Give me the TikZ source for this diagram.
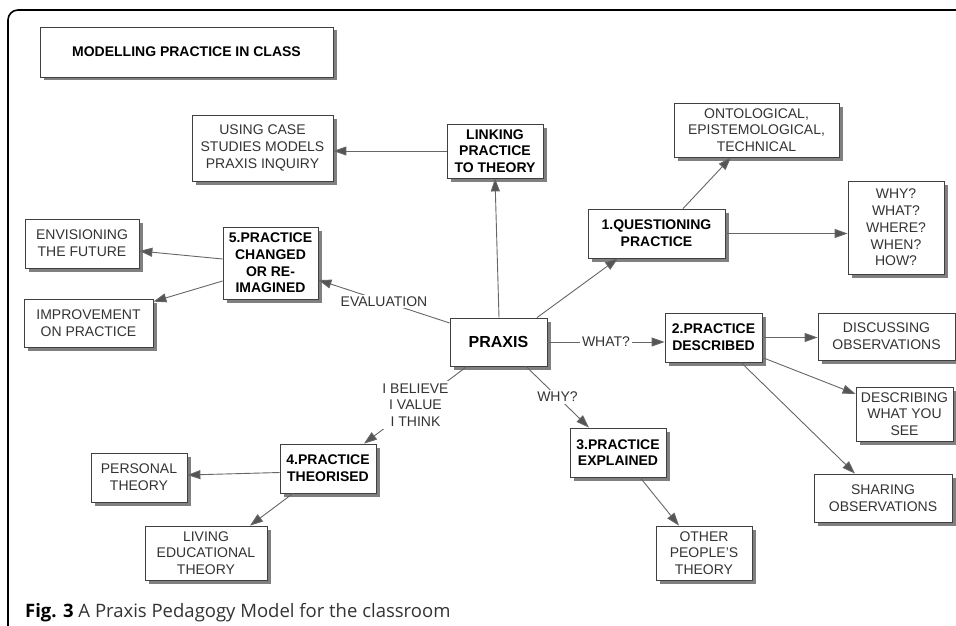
\documentclass[tikz,border=0pt]{standalone}
\usepackage{fontspec}
\setmainfont{Liberation Sans}
\newfontfamily\capfont{Open Sans}
\usetikzlibrary{arrows.meta,shadows,calc}
\definecolor{txt}{HTML}{333333}
\definecolor{edge}{HTML}{666666}
\definecolor{tip}{HTML}{555555}
\tikzset{
  box/.style={draw=black!75, line width=0.8pt, fill=white, align=center, inner sep=1pt,
    text=txt, font=\fontsize{14}{16.7}\selectfont,
    drop shadow={shadow xshift=3.5pt, shadow yshift=-3.5pt, opacity=1, fill=black!50}},
  bbox/.style={box, text=black, font=\fontsize{14}{16.7}\selectfont\bfseries},
  conn/.style={draw=edge, line width=0.9pt, -{Triangle[length=13pt,width=9pt,fill=tip]}},
  lbl/.style={fill=white, text=txt, inner sep=2pt, align=center, font=\fontsize{14}{16.7}\selectfont}
}
\begin{document}
\begin{tikzpicture}[x=1pt,y=-1pt]
\useasboundingbox (0,0) rectangle (956,626);
\draw[line width=1.6pt, rounded corners=10pt] (8,630) -- (8,10) -- (960,10);

\node[bbox, minimum width=293pt, minimum height=50pt] (title) at (186.5,52) {MODELLING PRACTICE IN CLASS};
\node[box, minimum width=141pt, minimum height=66pt] (using) at (262.5,148) {USING CASE\\STUDIES MODELS\\PRAXIS INQUIRY};
\node[bbox, minimum width=96pt, minimum height=54pt] (linking) at (495,151) {LINKING\\PRACTICE\\TO THEORY};
\node[box, minimum width=114pt, minimum height=49pt] (envision) at (82,243.5) {ENVISIONING\\THE FUTURE};
\node[bbox, minimum width=95pt, minimum height=72pt] (p5) at (270.5,263) {5.PRACTICE\\CHANGED\\OR RE-\\IMAGINED};
\node[box, minimum width=129pt, minimum height=48pt] (improve) at (88.5,323) {IMPROVEMENT\\ON PRACTICE};
\node[bbox, minimum width=97pt, minimum height=48pt, font=\fontsize{16}{18}\selectfont\bfseries] (praxis) at (498.5,342) {PRAXIS};
\node[box, minimum width=165pt, minimum height=54pt] (onto) at (756.5,130) {ONTOLOGICAL,\\EPISTEMOLOGICAL,\\TECHNICAL};
\node[box, minimum width=96pt, minimum height=93pt] (why) at (896,227.5) {WHY?\\WHAT?\\WHERE?\\WHEN?\\HOW?};
\node[bbox, minimum width=137pt, minimum height=49pt] (q1) at (656.5,233.5) {1.QUESTIONING\\PRACTICE};
\node[bbox, minimum width=97pt, minimum height=49pt] (p2) at (713.5,337.5) {2.PRACTICE\\DESCRIBED};
\node[box, minimum width=137pt, minimum height=47pt] (disc) at (886.5,336.5) {DISCUSSING\\OBSERVATIONS};
\node[box, minimum width=97pt, minimum height=54pt] (desc) at (904.5,414) {DESCRIBING\\WHAT YOU\\SEE};
\node[box, minimum width=138pt, minimum height=48pt] (share) at (883,498) {SHARING\\OBSERVATIONS};
\node[bbox, minimum width=96pt, minimum height=49pt] (p3) at (618,452.5) {3.PRACTICE\\EXPLAINED};
\node[box, minimum width=96pt, minimum height=54pt] (other) at (704,553) {OTHER\\PEOPLE'S\\THEORY};
\node[bbox, minimum width=96pt, minimum height=49pt] (p4) at (328,468.5) {4.PRACTICE\\THEORISED};
\node[box, minimum width=96pt, minimum height=49pt] (personal) at (139,477.5) {PERSONAL\\THEORY};
\node[box, minimum width=122pt, minimum height=54pt] (living) at (206,553) {LIVING\\EDUCATIONAL\\THEORY};

\draw[conn] ([xshift=0.5pt]praxis.north) -- (linking.south);
\draw[conn] (linking.west) -- (using.east |- linking.west);
\draw[conn] ([xshift=38.5pt]praxis.north) -- ([xshift=-38.5pt]q1.south);
\draw[conn] ([xshift=26.5pt]q1.north) -- ([xshift=-25.5pt]onto.south);
\draw[conn] (q1.east) -- (why.west |- q1.east);
\draw[conn] ([yshift=19pt]praxis.west) -- node[lbl]{EVALUATION} ([yshift=-17pt]p5.east);
\draw[conn] ([yshift=4pt]p5.west) -- ([yshift=-7.5pt]envision.east);
\draw[conn] ([yshift=-18pt]p5.west) -- ([yshift=-3pt]improve.north east);
\draw[conn] (praxis.east) -- node[lbl]{WHAT?} (p2.west |- praxis.east);
\draw[conn] (p2.east) -- (disc.west |- p2.east);
\draw[conn] ([yshift=-20pt]p2.east) -- ([yshift=20pt]desc.west);
\draw[conn] ([xshift=27.5pt]p2.south) -- ([xshift=-28pt]share.north);
\draw[conn] ([xshift=27.5pt]praxis.south) -- node[lbl]{WHY?} ([xshift=-29pt]p3.north);
\draw[conn] ([xshift=22pt]p3.south) -- ([xshift=-25pt]other.north);
\draw[conn] ([xshift=-31.5pt]praxis.south) -- node[lbl]{I BELIEVE\\I VALUE\\I THINK} ([xshift=36pt]p4.north);
\draw[conn] ([yshift=-4pt]p4.west) -- ([yshift=2.5pt]personal.east);
\draw[conn] ([xshift=-35pt]p4.south) -- ([xshift=44pt]living.north);

\node[anchor=base west, inner sep=0pt, text=txt, font=\capfont\fontsize{18.5}{20}\selectfont] (cap) at (25,617) {{\bfseries\color{black}Fig. 3} A Praxis Pedagogy Model for the classroom};
\end{tikzpicture}
\end{document}
